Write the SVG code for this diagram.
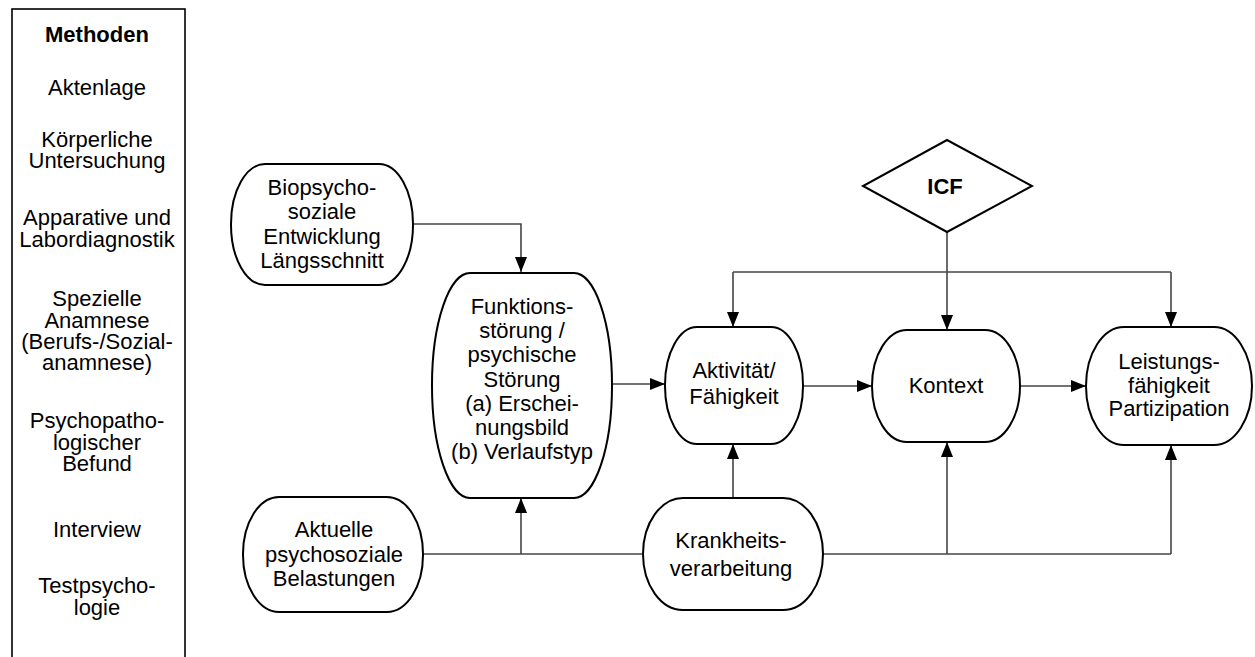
<svg xmlns="http://www.w3.org/2000/svg" width="1255" height="657" viewBox="0 0 1255 657">
<style>
text{font-family:"Liberation Sans",Arial,sans-serif;font-size:22px;fill:#000;text-anchor:middle}
.b{font-weight:bold}
.node{fill:#fff;stroke:#000;stroke-width:2}
.con{fill:none;stroke:#444;stroke-width:1.6}
</style>
<defs>
<marker id="arr" viewBox="0 0 15 12" refX="15" refY="6" markerWidth="15" markerHeight="12" markerUnits="userSpaceOnUse" orient="auto">
<path d="M0,0 L15,6 L0,12 z" fill="#000"/>
</marker>
</defs>
<rect width="1255" height="657" fill="#fff"/>

<g id="methoden">
<rect x="12" y="9" width="173" height="670" fill="#fff" stroke="#000" stroke-width="1.6"/>
<text class="b" x="97" y="42">Methoden</text>
<text x="97" y="95">Aktenlage</text>
<text x="97" y="147">Körperliche</text>
<text x="97" y="168">Untersuchung</text>
<text x="97" y="225">Apparative und</text>
<text x="97" y="247">Labordiagnostik</text>
<text x="97" y="306">Spezielle</text>
<text x="97" y="328">Anamnese</text>
<text x="97" y="349">(Berufs-/Sozial-</text>
<text x="97" y="370">anamnese)</text>
<text x="97" y="428">Psychopatho-</text>
<text x="97" y="450">logischer</text>
<text x="97" y="471">Befund</text>
<text x="97" y="537">Interview</text>
<text x="97" y="593">Testpsycho-</text>
<text x="97" y="615">logie</text>
</g>

<g id="connectors">
<path class="con" d="M413,224 H521 V272" marker-end="url(#arr)"/>
<path class="con" d="M612,384 H665" marker-end="url(#arr)"/>
<path class="con" d="M803,386 H872" marker-end="url(#arr)"/>
<path class="con" d="M1020,386 H1086" marker-end="url(#arr)"/>
<path class="con" d="M947,232 V330" marker-end="url(#arr)"/>
<path class="con" d="M733,272 H1171"/>
<path class="con" d="M733,272 V327" marker-end="url(#arr)"/>
<path class="con" d="M1171,272 V327" marker-end="url(#arr)"/>
<path class="con" d="M423,554 H643"/>
<path class="con" d="M521,554 V498" marker-end="url(#arr)"/>
<path class="con" d="M733,498 V444" marker-end="url(#arr)"/>
<path class="con" d="M823,554 H1171"/>
<path class="con" d="M947,554 V442" marker-end="url(#arr)"/>
<path class="con" d="M1171,554 V445" marker-end="url(#arr)"/>
</g>

<g id="biopsycho">
<rect class="node" x="231" y="164" width="182" height="121" rx="34" ry="60"/>
<text x="322" y="195">Biopsycho-</text>
<text x="322" y="219">soziale</text>
<text x="322" y="244">Entwicklung</text>
<text x="322" y="268">Längsschnitt</text>
</g>

<g id="funktion">
<rect class="node" x="432" y="273" width="180" height="225" rx="38" ry="112"/>
<text x="522" y="314">Funktions-</text>
<text x="522" y="338">störung /</text>
<text x="522" y="362">psychische</text>
<text x="522" y="387">Störung</text>
<text x="522" y="411">(a) Erschei-</text>
<text x="522" y="435">nungsbild</text>
<text x="522" y="459">(b) Verlaufstyp</text>
</g>

<g id="aktuelle">
<rect class="node" x="243" y="497" width="180" height="115" rx="36" ry="57"/>
<text x="334" y="537">Aktuelle</text>
<text x="334" y="562">psychosoziale</text>
<text x="334" y="586">Belastungen</text>
</g>

<g id="icf">
<polygon class="node" points="947,140 1032,186 947,232 863,186"/>
<text class="b" x="945" y="194">ICF</text>
</g>

<g id="aktivitaet">
<rect class="node" x="665" y="327" width="138" height="117" rx="32" ry="58"/>
<text x="734" y="378">Aktivität/</text>
<text x="734" y="404">Fähigkeit</text>
</g>

<g id="kontext">
<rect class="node" x="872" y="330" width="148" height="112" rx="35" ry="56"/>
<text x="946" y="393">Kontext</text>
</g>

<g id="leistung">
<rect class="node" x="1086" y="327" width="166" height="118" rx="38" ry="59"/>
<text x="1169" y="369">Leistungs-</text>
<text x="1169" y="393">fähigkeit</text>
<text x="1169" y="416">Partizipation</text>
</g>

<g id="krankheit">
<rect class="node" x="643" y="498" width="180" height="112" rx="40" ry="56"/>
<text x="731" y="548">Krankheits-</text>
<text x="731" y="576">verarbeitung</text>
</g>
</svg>
